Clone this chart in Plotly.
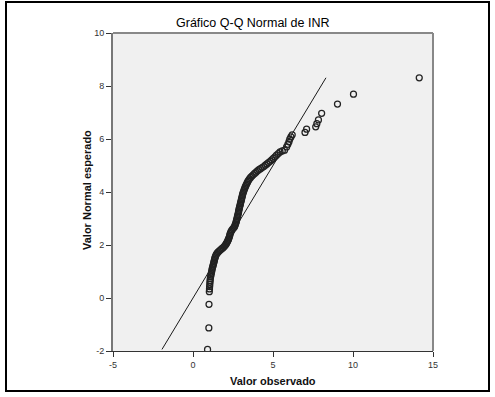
import plotly.graph_objects as go

# Q-Q normal plot of INR: observed value vs expected normal value
valor_observado = [
    0.91, 0.99, 1.00,
    1.02, 1.03, 1.04, 1.05, 1.06, 1.07, 1.08, 1.10, 1.12, 1.14, 1.16, 1.18,
    1.20, 1.22, 1.25, 1.27, 1.29, 1.31, 1.33, 1.35, 1.37, 1.40, 1.43, 1.47,
    1.52, 1.58, 1.65, 1.72, 1.80, 1.88, 1.95, 2.00, 2.05, 2.09, 2.13, 2.16,
    2.19, 2.22, 2.25, 2.28, 2.30, 2.32, 2.35, 2.39, 2.44, 2.50, 2.56, 2.60,
    2.63, 2.66, 2.69, 2.71, 2.73, 2.75, 2.77, 2.79, 2.81, 2.83, 2.85, 2.86,
    2.88, 2.90, 2.92, 2.94, 2.96, 2.98, 3.00, 3.02, 3.04, 3.06, 3.08, 3.10,
    3.12, 3.15, 3.18, 3.21, 3.24, 3.27, 3.31, 3.35, 3.39, 3.43, 3.48, 3.53,
    3.60, 3.68, 3.76, 3.85, 3.94, 4.03, 4.12, 4.22, 4.32, 4.42, 4.52, 4.62,
    4.72, 4.82, 4.92, 5.02, 5.12, 5.22, 5.33, 5.44, 5.58, 5.72, 5.85, 5.93,
    6.00, 6.05, 6.12, 6.20,
    7.00, 7.10, 7.67, 7.74, 7.84, 8.04, 9.03, 10.03, 14.14,
]
valor_esperado = [
    -1.94, -1.13, -0.24,
    0.24, 0.34, 0.43, 0.51, 0.59, 0.66, 0.73, 0.80, 0.86, 0.92, 0.98, 1.04,
    1.10, 1.16, 1.21, 1.26, 1.31, 1.36, 1.41, 1.46, 1.51, 1.56, 1.61, 1.66,
    1.70, 1.74, 1.78, 1.82, 1.86, 1.90, 1.94, 1.98, 2.02, 2.06, 2.10, 2.14,
    2.18, 2.22, 2.27, 2.32, 2.37, 2.42, 2.47, 2.52, 2.57, 2.62, 2.66, 2.70,
    2.75, 2.80, 2.85, 2.90, 2.95, 3.00, 3.05, 3.10, 3.15, 3.20, 3.25, 3.30,
    3.35, 3.40, 3.45, 3.50, 3.55, 3.60, 3.65, 3.70, 3.75, 3.80, 3.85, 3.90,
    3.95, 4.00, 4.05, 4.10, 4.15, 4.20, 4.25, 4.30, 4.35, 4.40, 4.45, 4.50,
    4.55, 4.60, 4.65, 4.70, 4.75, 4.80, 4.84, 4.88, 4.92, 4.96, 5.01, 5.06,
    5.11, 5.16, 5.21, 5.27, 5.33, 5.39, 5.45, 5.51, 5.55, 5.58, 5.70, 5.80,
    5.90, 6.00, 6.08, 6.16,
    6.25, 6.37, 6.46, 6.58, 6.72, 6.97, 7.32, 7.69, 8.31,
]
# reference line y = x over the range of expected values
linea_ref = [-1.94, 8.31]

x_ticks = [-5, 0, 5, 10, 15]
y_ticks = [-2, 0, 2, 4, 6, 8, 10]

FONT = "Arial, 'Liberation Sans', sans-serif"

fig = go.Figure()
fig.add_trace(go.Scatter(
    x=linea_ref, y=linea_ref, mode="lines",
    line=dict(color="#1a1a1a", width=1), hoverinfo="skip",
))
fig.add_trace(go.Scatter(
    x=valor_observado, y=valor_esperado, mode="markers",
    marker=dict(symbol="circle-open", size=6, color="#222222",
                line=dict(width=1.25, color="#222222")),
))

W, H = 495, 397
L, R, T, B = 113, 62, 33, 46
pw, ph = W - L - R, H - T - B

def px_x(p):
    return (p - L) / pw

def px_y(p):
    return (H - B - p) / ph

fig.update_layout(
    width=W, height=H,
    margin=dict(l=L, r=R, t=T, b=B, pad=0),
    paper_bgcolor="white", plot_bgcolor="#f0f0f0",
    showlegend=False,
    font=dict(family=FONT, color="#333333"),
    xaxis=dict(
        range=[-5, 15], tickvals=x_ticks, ticktext=[str(v) for v in x_ticks],
        ticks="outside", ticklen=5, tickwidth=1, tickcolor="#333333",
        showgrid=False, zeroline=False, showline=True, linecolor="#333333",
        linewidth=1, tickfont=dict(size=9, color="#333333"),
    ),
    yaxis=dict(
        range=[-2, 10], tickvals=y_ticks, ticktext=[str(v) for v in y_ticks],
        ticks="outside", ticklen=5, tickwidth=1, tickcolor="#333333",
        showgrid=False, zeroline=False, showline=True, linecolor="#777777",
        linewidth=2, tickfont=dict(size=9, color="#333333"),
    ),
    shapes=[
        # plot frame (top and right edges)
        dict(type="line", xref="paper", yref="paper", x0=0, x1=1, y0=1, y1=1,
             line=dict(color="#888888", width=2)),
        dict(type="line", xref="paper", yref="paper", x0=1, x1=1, y0=0, y1=1,
             line=dict(color="#888888", width=2)),
        # outer chart border
        dict(type="rect", xref="paper", yref="paper",
             x0=px_x(6), x1=px_x(489), y0=px_y(391), y1=px_y(2),
             line=dict(color="black", width=2)),
    ],
    annotations=[
        dict(text="Gráfico Q-Q Normal de INR", xref="paper", yref="paper",
             x=px_x(253), y=px_y(23), showarrow=False,
             font=dict(size=12.5, color="#000000", family=FONT),
             xanchor="center", yanchor="middle"),
        dict(text="<b>Valor observado</b>", xref="paper", yref="paper",
             x=px_x(273), y=px_y(381), showarrow=False,
             font=dict(size=11, color="#111111", family=FONT),
             xanchor="center", yanchor="middle"),
        dict(text="<b>Valor Normal esperado</b>", xref="paper", yref="paper",
             x=px_x(87), y=px_y(190), showarrow=False, textangle=-90,
             font=dict(size=11, color="#111111", family=FONT),
             xanchor="center", yanchor="middle"),
    ],
)

fig.write_html("out.html")
